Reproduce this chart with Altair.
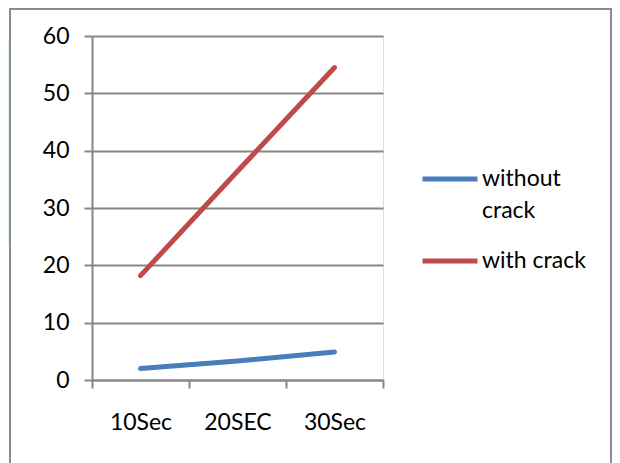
import altair as alt
import pandas as pd

categories = ["10Sec", "20SEC", "30Sec"]
without_crack = [2.0, 3.3, 4.9]
with_crack = [18.2, 36.4, 54.5]
series_names = ["without crack", "with crack"]
series_colors = ["#4a7ebb", "#be4b48"]

rows = []
for c, v in zip(categories, without_crack):
    rows.append({"time": c, "value": v, "series": series_names[0]})
for c, v in zip(categories, with_crack):
    rows.append({"time": c, "value": v, "series": series_names[1]})
df = pd.DataFrame(rows)

FONT = "Lato"
GRAY = "#868686"

lines = alt.Chart(df).mark_line(strokeWidth=5, strokeCap="round", strokeJoin="round").encode(
    x=alt.X("time:N", sort=categories, bandPosition=0.5,
            scale=alt.Scale(type="band", paddingInner=0, paddingOuter=0),
            axis=alt.Axis(title=None, labelAngle=0, tickBand="extent", grid=False,
                          domainColor=GRAY, domainWidth=2, tickColor=GRAY, tickWidth=2,
                          tickSize=8, labelPadding=23, labelFontSize=23, labelFont=FONT,
                          labelColor="#000000")),
    y=alt.Y("value:Q", scale=alt.Scale(domain=[0, 60]),
            axis=alt.Axis(title=None, values=[0, 10, 20, 30, 40, 50, 60], grid=True,
                          gridColor=GRAY, gridWidth=2, domainColor=GRAY, domainWidth=2,
                          tickColor=GRAY, tickWidth=2, tickSize=8, labelPadding=15,
                          labelFontSize=23, labelFont=FONT, labelColor="#000000")),
    color=alt.Color("series:N", sort=series_names,
                    scale=alt.Scale(domain=series_names, range=series_colors),
                    legend=alt.Legend(title=None, orient="none", legendX=328, legendY=113,
                                      symbolType="stroke", symbolStrokeWidth=5, symbolSize=3025,
                                      labelFontSize=23, labelFont=FONT, labelColor="#000000",
                                      labelExpr="datum.label == 'without crack' ? ['without', 'crack'] : datum.label",
                                      rowPadding=8, labelOffset=2)),
)

frame_df = pd.DataFrame({"k": [0]})
frame = alt.Chart(frame_df).mark_rect(fill=None, stroke="#8c8c8c", strokeWidth=2, clip=False).encode(
    x=alt.value(-82), x2=alt.value(519), y=alt.value(-27), y2=alt.value(450)
)
blue = alt.Chart(frame_df).mark_rect(fill="#e0f4fb", clip=False).encode(
    x=alt.value(-84), x2=alt.value(-83), y=alt.value(4), y2=alt.value(209)
)

chart = alt.layer(blue, frame, lines).properties(
    width=291, height=344,
    autosize=alt.AutoSizeParams(type="none"),
    padding={"left": 84, "top": 28, "right": 229, "bottom": 83},
).configure_view(stroke=None).configure(
    background="#ffffff",
    style={"guide-label": {"lineHeight": 32}},
)

chart.save("out.html", embed_options={"renderer": "svg", "actions": False})
